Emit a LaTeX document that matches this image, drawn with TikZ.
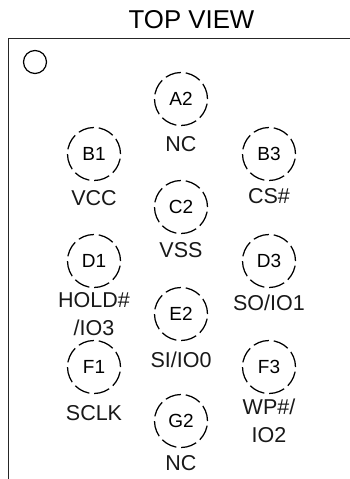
\documentclass[tikz,border=0pt]{standalone}
\usepackage{fontspec}
\setmainfont{Liberation Sans}
\tikzset{
  x=1pt,y=-1pt,
  pin/.style={circle,draw=black,line width=1.25pt,dash pattern=on 16pt off 4.8pt,minimum size=53pt,inner sep=0pt,font=\fontsize{19}{19}\selectfont},
  lbl/.style={inner sep=0pt,font=\fontsize{21.5}{21.5}\selectfont,text=black!90},
  ttl/.style={inner sep=0pt,font=\fontsize{25.8}{25.8}\selectfont},
}
\begin{document}
\begin{tikzpicture}
\useasboundingbox (0,0) rectangle (350,479);
\fill[white] (0,0) rectangle (350,479);
\node[ttl] (title) at (191.5,20) {TOP VIEW};
\draw[line width=1.6pt,black!85] (350,38.5) -- (8.5,38.5) -- (8.5,479);
\node[circle,draw=black,line width=1.2pt,minimum size=23pt,inner sep=0pt] (mark) at (35,62) {};
\node[pin] (A2) at (181,99) {A2};
\node[pin] (B1) at (94,154) {B1};
\node[pin] (B3) at (269,154) {B3};
\node[pin] (C2) at (181,207) {C2};
\node[pin] (D1) at (94,261) {D1};
\node[pin] (D3) at (269,261) {D3};
\node[pin] (E2) at (181,314) {E2};
\node[pin] (F1) at (94,367) {F1};
\node[pin] (F3) at (269,367) {F3};
\node[pin] (G2) at (181,421) {G2};
\node[lbl] (lA2) at (181,144) {NC};
\node[lbl] (lB1) at (94,198) {VCC};
\node[lbl] (lB3) at (269,196) {CS\#};
\node[lbl] (lC2) at (181,250) {VSS};
\node[lbl] (lD1a) at (94,300) {HOLD\#};
\node[lbl] (lD1b) at (94,328) {/IO3};
\node[lbl] (lD3) at (269,303) {SO/IO1};
\node[lbl] (lE2) at (181,360) {SI/IO0};
\node[lbl] (lF1) at (94,413) {SCLK};
\node[lbl] (lF3a) at (269,407) {WP\#/};
\node[lbl] (lF3b) at (269,435) {IO2};
\node[lbl] (lG2) at (181,463) {NC};
\end{tikzpicture}
\end{document}
